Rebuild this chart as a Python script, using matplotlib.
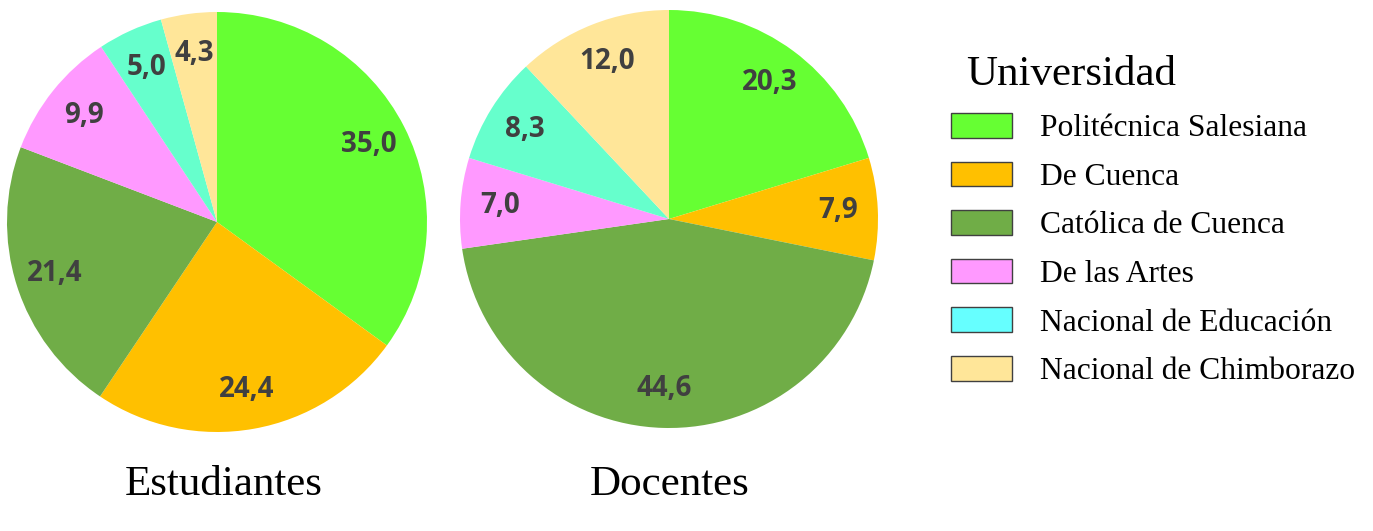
import matplotlib
matplotlib.use("Agg")
import matplotlib.pyplot as plt
from matplotlib.patches import Patch

universidades = ["Politécnica Salesiana", "De Cuenca", "Católica de Cuenca",
                 "De las Artes", "Nacional de Educación", "Nacional de Chimborazo"]
estudiantes = [35.0, 24.4, 21.4, 9.9, 5.0, 4.3]
docentes = [20.3, 7.9, 44.6, 7.0, 8.3, 12.0]

pie_colors = ["#66FF33", "#FFC000", "#70AD47", "#FF99FF", "#66FFCC", "#FFE699"]
legend_colors = ["#66FF33", "#FFC000", "#70AD47", "#FF99FF", "#66FFFF", "#FFE699"]

W, H = 1373, 531
fig = plt.figure(figsize=(W / 100, H / 100), dpi=100)


def pie_axes(cx, cy, r):
    return fig.add_axes([(cx - r) / W, 1 - (cy + r) / H, 2 * r / W, 2 * r / H])


def fmt(v):
    return f"{v:.1f}".replace(".", ",")


for vals, (cx, cy, r), title, tx in [
    (estudiantes, (217, 222, 210), "Estudiantes", 224),
    (docentes, (669, 219, 209), "Docentes", 670),
]:
    ax = pie_axes(cx, cy, r)
    wedges, texts = ax.pie(vals, colors=pie_colors, startangle=90, counterclock=False,
                           labels=[fmt(v) for v in vals], labeldistance=0.81,
                           textprops=dict(fontsize=20, fontweight="bold", color="#404040",
                                          family="Open Sans"),
                           wedgeprops=dict(linewidth=0))
    for t in texts:
        t.set_horizontalalignment("center")
        t.set_verticalalignment("center")
    ax.set_xlim(-1, 1)
    ax.set_ylim(-1, 1)
    ax.axis("off")
    fig.text(tx / W, 1 - 485 / H, title, ha="center", va="center",
             family="Liberation Serif", fontsize=31)

fig.text(966 / W, 1 - 75 / H, "Universidad", ha="left", va="center",
         family="Liberation Serif", fontsize=31)

handles = [Patch(facecolor=c, edgecolor="#404040", linewidth=1) for c in legend_colors]
fig.legend(handles, universidades, loc="upper left",
           bbox_to_anchor=(951 / W, 1 - 113 / H), frameon=False,
           prop=dict(family="Liberation Serif", size=22.7),
           handlelength=1.94, handleheight=0.83, labelspacing=0.58,
           handletextpad=0.89, borderpad=0, borderaxespad=0)

fig.savefig("out.png", dpi=100)
